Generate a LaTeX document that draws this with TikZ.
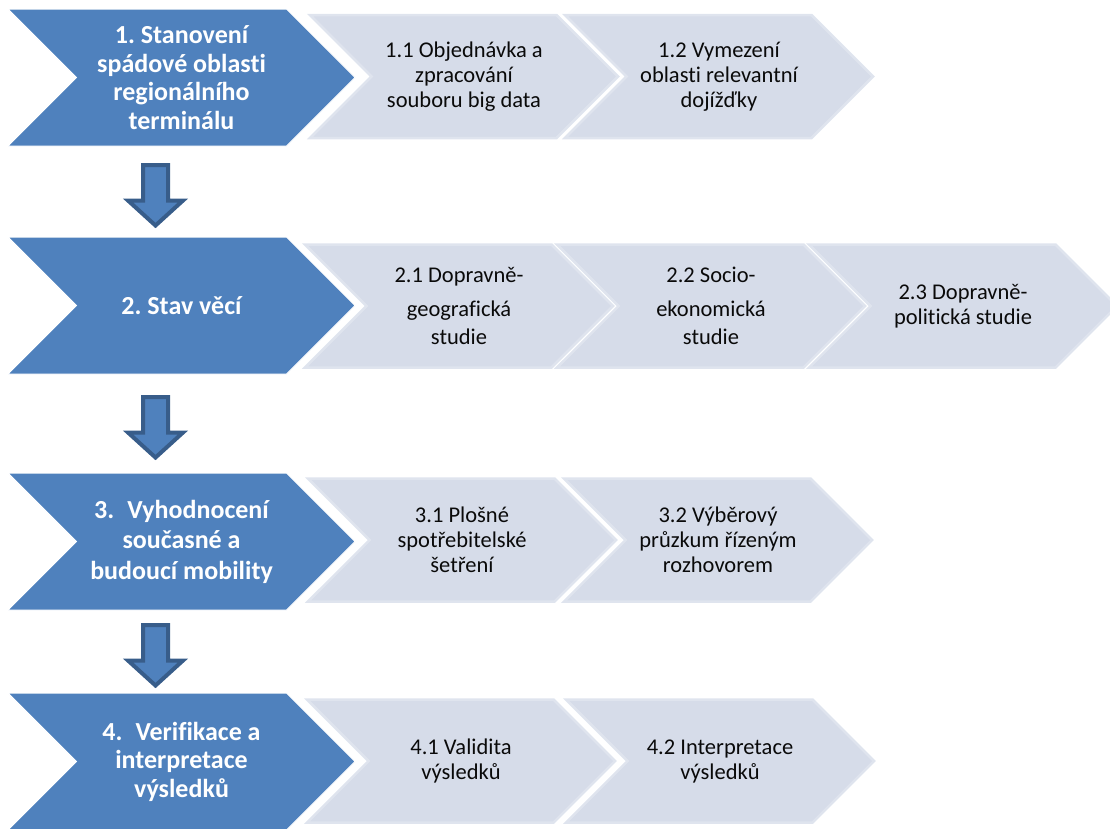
\documentclass[tikz,border=0pt]{standalone}
\usepackage{fontspec}
\setmainfont{Carlito}[Ligatures=NoCommon]
\usepackage{tikz}
\usetikzlibrary{shapes.symbols, calc}
\definecolor{stepblue}{RGB}{79,129,189}
\definecolor{stepdark}{RGB}{56,93,138}
\definecolor{subfill}{RGB}{214,220,233}
\definecolor{subedge}{RGB}{223,228,238}
\definecolor{subtext}{RGB}{10,10,10}
\tikzset{
  mainstep/.style={signal, signal to=east, signal from=west, signal pointer angle=90,
    fill=stepblue, draw=white, line width=1pt, text=white,
    align=center, minimum width=347pt, minimum height=137pt,
    inner sep=0pt, font=\fontsize{26}{28.5}\selectfont\bfseries},
  substep/.style={signal, signal to=east, signal from=west, signal pointer angle=90,
    fill=subfill, draw=subedge, line width=2.5pt, text=subtext,
    align=center, minimum width=308pt, minimum height=123pt,
    inner sep=0pt, font=\fontsize{22.5}{25}\selectfont},
  blockarrow/.style={fill=stepblue, draw=stepdark, line width=4pt, line join=miter}
}
% block arrow between two main steps
\newcommand{\stepdown}[2]{%
  \coordinate (mid) at ($(#1.south)!0.5!(#2.north)+(-26,-5)$);
  \draw[blockarrow, shift={(mid)}] (-12.5,31.5) -- (12.5,31.5) -- (12.5,-4) -- (27.5,-4)
    -- (0,-29) -- (-27.5,-4) -- (-12.5,-4) -- cycle;
}

\begin{document}
\frenchspacing
\begin{tikzpicture}[x=1pt, y=1pt]
  \useasboundingbox (0,0) rectangle (1110,-828);

  % row 1
  \node[mainstep] (s1) at (181.5,-77.5) {1. Stanovení\\ spádové oblasti\\ regionálního\\ terminálu};
  \node[substep] (s11) at (464,-76.5) {1.1 Objednávka a\\ zpracování\\ souboru big data};
  \node[substep] (s12) at (719,-76.5) {1.2 Vymezení\\ oblasti relevantní\\ dojížďky};

  % row 2
  \node[mainstep] (s2) at (181.5,-305.5) {2. Stav věcí};
  \node[substep] (s21) at (459,-306) {2.1 Dopravně-\\[9pt] geografická\\[3pt] studie};
  \node[substep] (s22) at (711,-306) {2.2 Socio-\\[9pt] ekonomická\\[3pt] studie};
  \node[substep] (s23) at (963,-306) {2.3 Dopravně-\\ politická studie};

  % row 3
  \node[mainstep] (s3) at (181.5,-541.5) {3.\enspace Vyhodnocení\\[2pt] současné a\\[2pt] budoucí mobility};
  \node[substep] (s31) at (462,-540) {3.1 Plošné\\ spotřebitelské\\ šetření};
  \node[substep] (s32) at (718,-540) {3.2 Výběrový\\ průzkum řízeným\\ rozhovorem};

  % row 4
  \node[mainstep] (s4) at (181.5,-761.5) {4.\enspace Verifikace a\\ interpretace\\ výsledků};
  \node[substep] (s41) at (461,-761) {4.1 Validita\\ výsledků};
  \node[substep] (s42) at (720,-761) {4.2 Interpretace\\ výsledků};

  \stepdown{s1}{s2}
  \stepdown{s2}{s3}
  \stepdown{s3}{s4}
\end{tikzpicture}
\end{document}
